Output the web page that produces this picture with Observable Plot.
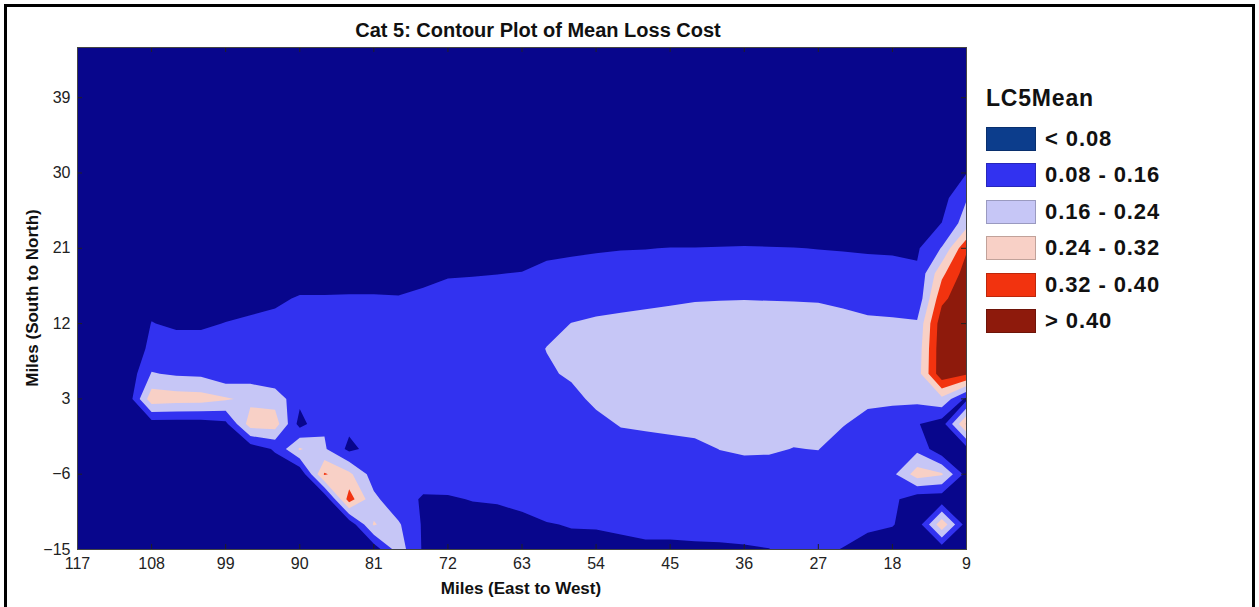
<!DOCTYPE html>
<html>
<head>
<meta charset="utf-8">
<script src="https://cdn.jsdelivr.net/npm/d3@7"></script>
<script src="https://cdn.jsdelivr.net/npm/@observablehq/plot@0.6"></script>
<style>
  html, body { margin: 0; padding: 0; background: #fff; overflow: hidden; }
  #wrap { position: relative; width: 1259px; height: 607px; overflow: hidden;
          font-family: "Liberation Sans", Arial, sans-serif; color: #111; }
  #chart { position: absolute; left: 0; top: 0; }
  .title { position: absolute; left: 538px; top: 20px; transform: translateX(-50%);
           font-size: 20px; font-weight: bold; line-height: 1; white-space: nowrap; }
  .xlabel { position: absolute; left: 521px; top: 580px; transform: translateX(-50%);
            font-size: 17px; font-weight: bold; line-height: 1; white-space: nowrap; }
  .ylabel { position: absolute; left: 32px; top: 298px; transform: translate(-50%, -50%) rotate(-90deg);
            font-size: 17px; font-weight: bold; line-height: 1; white-space: nowrap; }
  #legend { position: absolute; left: 986px; top: 87px; }
  #legend .ltitle { font-size: 23px; font-weight: bold; line-height: 1; height: 40px; letter-spacing: 0.8px; }
  #legend .row { display: flex; align-items: flex-start; height: 24px; margin-bottom: 12.4px; }
  #legend .sw { width: 50px; height: 24px; box-sizing: border-box; border: 1px solid rgba(0,0,0,0.22); }
  #legend .lab { margin-left: 9px; font-size: 22px; font-weight: bold; line-height: 24px;
                 letter-spacing: 0.9px; white-space: nowrap; }
  .border { position: absolute; left: 4px; top: 4px; width: 1245px; height: 700px;
            border: 3px solid #000; pointer-events: none; }
</style>
</head>
<body>
<div id="wrap">
  <div id="chart"></div>
  <div class="title">Cat 5: Contour Plot of Mean Loss Cost</div>
  <div class="xlabel">Miles (East to West)</div>
  <div class="ylabel">Miles (South to North)</div>
  <div id="legend"></div>
  <div class="border"></div>
</div>
<script>
// Sample grid: columns run east to west (117 → 9 miles), rows north to south (45 → -15 miles).
const gridX = [117,114,111,108,105,102,99,96,93,90,87,84,81,78,75,72,69,66,63,60,57,54,51,48,45,42,39,36,33,30,27,24,21,18,15,12,9];
const gridY = [45,42,39,36,33,30,27,24,21,18,15,12,9,6,3,0,-3,-6,-9,-12,-15];

// Mean loss cost (LC5Mean) at each grid node, one row per gridY value.
const lc5Mean = [
  [0.02,0.02,0.02,0.02,0.02,0.02,0.02,0.02,0.02,0.02,0.02,0.02,0.02,0.02,0.02,0.02,0.02,0.02,0.02,0.02,0.02,0.02,0.02,0.02,0.02,0.02,0.02,0.02,0.02,0.02,0.02,0.02,0.02,0.02,0.02,0.02,0.02],
  [0.02,0.02,0.02,0.02,0.02,0.02,0.02,0.02,0.02,0.02,0.02,0.02,0.02,0.02,0.02,0.02,0.02,0.02,0.02,0.02,0.02,0.02,0.02,0.02,0.02,0.02,0.02,0.02,0.02,0.02,0.02,0.02,0.02,0.02,0.02,0.02,0.02],
  [0.02,0.02,0.02,0.02,0.02,0.02,0.02,0.02,0.02,0.02,0.02,0.02,0.02,0.02,0.02,0.02,0.02,0.02,0.02,0.02,0.02,0.02,0.02,0.02,0.02,0.02,0.02,0.02,0.02,0.02,0.02,0.02,0.02,0.02,0.02,0.02,0.02],
  [0.02,0.02,0.02,0.02,0.02,0.02,0.02,0.02,0.02,0.02,0.02,0.02,0.02,0.02,0.02,0.02,0.02,0.02,0.02,0.02,0.02,0.02,0.02,0.02,0.02,0.02,0.02,0.02,0.02,0.02,0.02,0.02,0.02,0.02,0.02,0.02,0.03],
  [0.02,0.02,0.02,0.02,0.02,0.02,0.02,0.02,0.02,0.02,0.02,0.02,0.02,0.02,0.02,0.02,0.02,0.02,0.02,0.02,0.02,0.02,0.02,0.02,0.02,0.02,0.02,0.02,0.02,0.02,0.02,0.02,0.02,0.02,0.02,0.03,0.05],
  [0.02,0.02,0.02,0.03,0.03,0.03,0.03,0.03,0.03,0.03,0.03,0.03,0.03,0.03,0.03,0.03,0.03,0.03,0.03,0.03,0.03,0.03,0.03,0.03,0.03,0.03,0.03,0.03,0.03,0.03,0.03,0.03,0.03,0.03,0.03,0.04,0.078],
  [0.02,0.02,0.02,0.03,0.03,0.03,0.03,0.03,0.03,0.03,0.03,0.03,0.03,0.03,0.03,0.03,0.03,0.03,0.03,0.03,0.03,0.03,0.03,0.03,0.03,0.03,0.03,0.03,0.03,0.03,0.03,0.03,0.03,0.03,0.03,0.05,0.155],
  [0.02,0.02,0.02,0.03,0.03,0.03,0.03,0.03,0.03,0.035,0.035,0.035,0.035,0.035,0.035,0.04,0.04,0.04,0.04,0.045,0.05,0.05,0.05,0.05,0.05,0.05,0.05,0.05,0.05,0.05,0.05,0.05,0.05,0.05,0.045,0.081,0.20],
  [0.02,0.02,0.02,0.04,0.035,0.035,0.035,0.04,0.04,0.04,0.04,0.04,0.04,0.04,0.045,0.05,0.05,0.05,0.05,0.065,0.07,0.075,0.078,0.079,0.081,0.081,0.082,0.083,0.082,0.081,0.079,0.077,0.074,0.072,0.07,0.165,0.39],
  [0.02,0.02,0.02,0.05,0.04,0.04,0.04,0.045,0.05,0.05,0.05,0.05,0.05,0.05,0.06,0.075,0.077,0.079,0.082,0.095,0.10,0.10,0.10,0.10,0.10,0.10,0.10,0.10,0.10,0.10,0.10,0.10,0.10,0.10,0.09,0.30,0.44],
  [0.02,0.02,0.02,0.06,0.04,0.045,0.05,0.06,0.07,0.085,0.085,0.086,0.086,0.084,0.095,0.10,0.10,0.10,0.105,0.12,0.13,0.135,0.14,0.145,0.15,0.155,0.157,0.158,0.157,0.156,0.155,0.15,0.14,0.13,0.10,0.38,0.46],
  [0.02,0.02,0.02,0.082,0.07,0.07,0.082,0.09,0.095,0.10,0.11,0.11,0.11,0.11,0.115,0.115,0.115,0.115,0.12,0.14,0.161,0.17,0.175,0.18,0.185,0.19,0.19,0.19,0.19,0.19,0.185,0.175,0.17,0.17,0.17,0.45,0.47],
  [0.02,0.02,0.02,0.10,0.11,0.11,0.095,0.10,0.10,0.10,0.11,0.11,0.11,0.115,0.12,0.12,0.12,0.12,0.13,0.162,0.18,0.19,0.20,0.21,0.215,0.22,0.22,0.22,0.22,0.215,0.21,0.20,0.19,0.18,0.19,0.46,0.47],
  [0.02,0.02,0.02,0.165,0.15,0.145,0.10,0.12,0.09,0.10,0.11,0.11,0.11,0.115,0.12,0.12,0.12,0.12,0.125,0.15,0.17,0.185,0.20,0.21,0.22,0.225,0.23,0.23,0.23,0.225,0.22,0.20,0.19,0.18,0.20,0.46,0.41],
  [0.03,0.03,0.02,0.29,0.28,0.275,0.25,0.22,0.21,0.10,0.11,0.10,0.11,0.115,0.12,0.12,0.12,0.12,0.12,0.13,0.14,0.175,0.19,0.20,0.21,0.215,0.22,0.22,0.215,0.21,0.20,0.185,0.18,0.175,0.18,0.22,0.06],
  [0.02,0.02,0.02,0.04,0.04,0.04,0.06,0.28,0.28,0.05,0.15,0.10,0.11,0.115,0.12,0.12,0.12,0.12,0.12,0.12,0.12,0.14,0.165,0.17,0.175,0.18,0.185,0.19,0.19,0.185,0.18,0.165,0.13,0.12,0.085,0.04,0.33],
  [0.02,0.02,0.02,0.02,0.02,0.02,0.02,0.03,0.09,0.25,0.17,0.06,0.11,0.115,0.115,0.115,0.115,0.115,0.115,0.115,0.11,0.12,0.13,0.135,0.14,0.145,0.161,0.17,0.17,0.158,0.162,0.12,0.11,0.12,0.14,0.02,0.05],
  [0.02,0.02,0.02,0.02,0.02,0.02,0.02,0.02,0.02,0.01,0.33,0.26,0.12,0.11,0.10,0.105,0.11,0.11,0.11,0.11,0.10,0.11,0.12,0.12,0.125,0.125,0.13,0.13,0.125,0.12,0.12,0.11,0.11,0.14,0.28,0.25,0.05],
  [0.02,0.02,0.02,0.02,0.02,0.02,0.02,0.02,0.02,0.01,0.01,0.36,0.18,0.10,0.075,0.075,0.082,0.085,0.09,0.10,0.10,0.10,0.11,0.11,0.11,0.115,0.12,0.12,0.11,0.11,0.11,0.11,0.10,0.10,0.03,0.025,0.04],
  [0.02,0.02,0.02,0.02,0.02,0.02,0.02,0.02,0.02,0.01,0.01,0.02,0.25,0.17,0.07,0.06,0.06,0.06,0.07,0.078,0.082,0.085,0.09,0.095,0.095,0.10,0.10,0.10,0.10,0.10,0.10,0.10,0.09,0.085,0.03,0.30,0.04],
  [0.02,0.02,0.02,0.02,0.02,0.02,0.02,0.02,0.02,0.01,0.01,0.01,0.03,0.20,0.07,0.05,0.04,0.04,0.05,0.06,0.07,0.06,0.065,0.07,0.07,0.07,0.072,0.075,0.079,0.09,0.09,0.078,0.06,0.03,0.03,0.03,0.03]
];

// Contour bands
const bandBreaks = [0.08, 0.16, 0.24, 0.32, 0.40];
const bandLabels = ["< 0.08", "0.08 - 0.16", "0.16 - 0.24", "0.24 - 0.32", "0.32 - 0.40", "> 0.40"];
const bandColors = ["#08068c", "#3232f0", "#c6c6f6", "#f8d0c6", "#f2330f", "#8e1a0c"];
const legendColors = ["#0c3d8c", "#3232f0", "#c6c6f6", "#f8d0c6", "#f2330f", "#8e1a0c"];

// Axis ticks
const xTicks = [117, 108, 99, 90, 81, 72, 63, 54, 45, 36, 27, 18, 9];
const yTicks = [-15, -6, 3, 12, 21, 30, 39];

// Flatten the grid into raster order: rows south → north, columns with ascending x.
const nx = gridX.length, ny = gridY.length;
const values = [];
for (let j = ny - 1; j >= 0; --j) {
  const row = lc5Mean[j];
  for (let i = nx - 1; i >= 0; --i) values.push(row[i]);
}
const stepX = Math.abs(gridX[0] - gridX[1]);
const stepY = Math.abs(gridY[0] - gridY[1]);
const x1 = d3.min(gridX) - stepX / 2, x2 = d3.max(gridX) + stepX / 2;
const y1 = d3.min(gridY) - stepY / 2, y2 = d3.max(gridY) + stepY / 2;

const W = 1259, H = 607;
const mL = 77, mR = 293, mT = 47, mB = 58;
const frameW = W - mL - mR, frameH = H - mT - mB;
const tickLen = 5;

const chart = Plot.plot({
  width: W,
  height: H,
  marginLeft: mL,
  marginRight: mR,
  marginTop: mT,
  marginBottom: mB,
  style: { fontFamily: "Liberation Sans, Arial, sans-serif", fontSize: "16px", color: "#222", background: "transparent" },
  x: { domain: [117, 9], ticks: xTicks, tickSize: 0, tickPadding: 8, label: null },
  y: { domain: [-15, 45], ticks: yTicks, tickSize: 0, tickPadding: 7, label: null },
  color: { type: "threshold", domain: bandBreaks, range: bandColors },
  marks: [
    Plot.contour(values, {
      width: nx, height: ny, x1, x2, y1, y2,
      fill: Plot.identity,
      thresholds: [0, ...bandBreaks],
      clip: true
    }),
    // inward tick marks on all four sides
    Plot.tickX(xTicks, { x: d => d, insetTop: frameH - tickLen, stroke: "#222" }),
    Plot.tickX(xTicks, { x: d => d, insetBottom: frameH - tickLen, stroke: "#222" }),
    Plot.tickY(yTicks, { y: d => d, insetRight: frameW - tickLen, stroke: "#222" }),
    Plot.tickY(yTicks, { y: d => d, insetLeft: frameW - tickLen, stroke: "#222" }),
    Plot.frame({ stroke: "#444", strokeWidth: 1 })
  ]
});
document.getElementById("chart").append(chart);

// Legend
const legend = d3.select("#legend");
legend.append("div").attr("class", "ltitle").text("LC5Mean");
bandLabels.forEach((label, i) => {
  const row = legend.append("div").attr("class", "row");
  row.append("div").attr("class", "sw").style("background", legendColors[i]);
  row.append("div").attr("class", "lab").text(label);
});
</script>
</body>
</html>
